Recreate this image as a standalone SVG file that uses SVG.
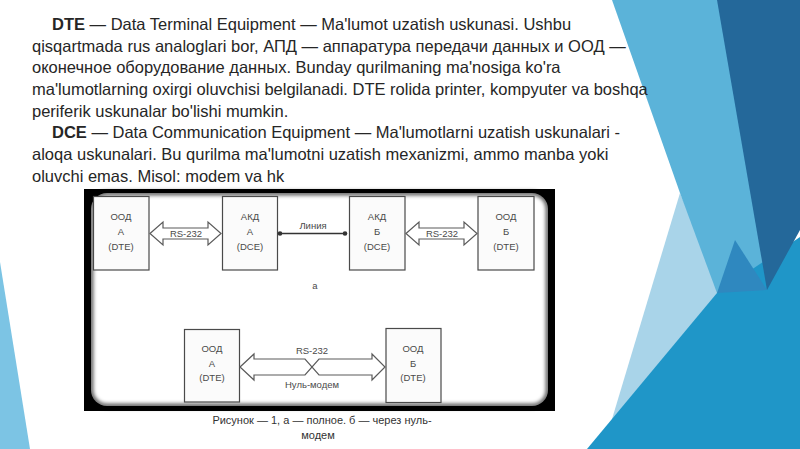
<svg xmlns="http://www.w3.org/2000/svg" width="800" height="449" viewBox="0 0 800 449">
<defs>
<style>
.body{font-family:"Liberation Sans",Arial,sans-serif;font-size:16.5px;fill:#262626}
.b{font-weight:bold}
.cap{font-family:"Liberation Sans",Arial,sans-serif;font-size:11px;fill:#333;text-anchor:middle}
.lbl{font-family:"Liberation Sans",Arial,sans-serif;font-size:9.5px;fill:#4a4a4a;text-anchor:middle}
.box{fill:#fbfbfb;stroke:#4a4a4a;stroke-width:1.2}
.conn{fill:none;stroke:#5a5a5a;stroke-width:1.2}
</style>
<filter id="soft" x="-5%" y="-5%" width="110%" height="110%"><feGaussianBlur stdDeviation="2"/></filter>
</defs>
<rect width="800" height="449" fill="#ffffff"/>
<!-- background facets -->
<polygon points="0,262 30,449 0,449" fill="#7cc4e4"/>
<polygon points="680,193 725,300 650,449 603,449" fill="#a9d4e9"/>
<polygon points="612,0 718,0 775,300 717,293 680,193" fill="#5bb3d9"/>
<polygon points="717,293 800,237 800,449 587,449" fill="#1f96c8"/>
<polygon points="735,240 767,290 717,293" fill="#2f88bf"/>
<polygon points="717,0 800,0 800,230 767,290" fill="#24689a"/>
<!-- paragraph text -->
<text class="body" x="52" y="30"><tspan class="b">DTE</tspan> — Data Terminal Equipment — Ma'lumot uzatish uskunasi. Ushbu</text>
<text class="body" x="32" y="51.7">qisqartmada rus analoglari bor, АПД — аппаратура передачи данных и ООД —</text>
<text class="body" x="32" y="73.3">оконечное оборудование данных. Bunday qurilmaning ma'nosiga ko'ra</text>
<text class="body" x="32" y="95">ma'lumotlarning oxirgi oluvchisi belgilanadi. DTE rolida printer, kompyuter va boshqa</text>
<text class="body" x="32" y="116.7">periferik uskunalar bo'lishi mumkin.</text>
<text class="body" x="52" y="138.3"><tspan class="b">DCE</tspan> — Data Communication Equipment — Ma'lumotlarni uzatish uskunalari -</text>
<text class="body" x="32" y="160">aloqa uskunalari. Bu qurilma ma'lumotni uzatish mexanizmi, ammo manba yoki</text>
<text class="body" x="32" y="181.7">oluvchi emas. Misol: modem va hk</text>
<!-- picture frame -->
<g id="frame">
<rect x="84" y="189" width="471" height="222" fill="#000"/>
<rect x="91" y="193" width="457" height="213" rx="16" fill="#fff"/>
<rect x="91" y="193" width="457" height="213" rx="16" fill="none" stroke="#000" stroke-width="3" filter="url(#soft)"/>
</g>
<g id="ood-a-top">
<rect class="box" x="93.5" y="196.5" width="55.5" height="73.5"/>
<text class="lbl" x="121" y="220">ООД</text>
<text class="lbl" x="121" y="235">А</text>
<text class="lbl" x="121" y="250">(DTE)</text>
</g>
<g id="akd-a">
<rect class="box" x="222.5" y="196.5" width="55" height="73.5"/>
<text class="lbl" x="250" y="220">АКД</text>
<text class="lbl" x="250" y="235">А</text>
<text class="lbl" x="250" y="250">(DCE)</text>
</g>
<g id="akd-b">
<rect class="box" x="349.5" y="196.5" width="55.5" height="73.5"/>
<text class="lbl" x="377" y="220">АКД</text>
<text class="lbl" x="377" y="235">Б</text>
<text class="lbl" x="377" y="250">(DCE)</text>
</g>
<g id="ood-b-top">
<rect class="box" x="478" y="196.5" width="56" height="73.5"/>
<text class="lbl" x="506" y="220">ООД</text>
<text class="lbl" x="506" y="235">Б</text>
<text class="lbl" x="506" y="250">(DTE)</text>
</g>
<text class="lbl" x="315" y="289">а</text>
<g id="ood-a-bottom">
<rect class="box" x="184.5" y="329.5" width="55" height="72.5"/>
<text class="lbl" x="212" y="352">ООД</text>
<text class="lbl" x="212" y="367">А</text>
<text class="lbl" x="212" y="381">(DTE)</text>
</g>
<g id="ood-b-bottom">
<rect class="box" x="386" y="328.5" width="55" height="74"/>
<text class="lbl" x="413" y="352">ООД</text>
<text class="lbl" x="413" y="367">Б</text>
<text class="lbl" x="413" y="381">(DTE)</text>
</g>
<g id="connectors">
<path class="conn" d="M150,233.5 L163,222 L163,228 L208,228 L208,222 L221,233.5 L208,245 L208,239 L163,239 L163,245 Z"/>
<text class="lbl" x="186" y="237">RS-232</text>
<line x1="280" y1="233.5" x2="345" y2="233.5" stroke="#333" stroke-width="1.3"/>
<circle cx="280" cy="233.5" r="2.3" fill="#333"/>
<circle cx="345" cy="233.5" r="2.3" fill="#333"/>
<text class="lbl" x="313" y="229">Линия</text>
<path class="conn" d="M406,233.5 L419,222 L419,228 L464,228 L464,222 L477,233.5 L464,245 L464,239 L419,239 L419,245 Z"/>
<text class="lbl" x="442" y="237">RS-232</text>
<path class="conn" d="M240,367 L254,354 L254,359 L305,359 L319,375 L372,375 L372,380 L385,367 L372,354 L372,359 L319,359 L305,375 L254,375 L254,380 Z"/>
<text class="lbl" x="312" y="354">RS-232</text>
<text class="lbl" x="312" y="388">Нуль-модем</text>
</g>
<text class="cap" x="322" y="424">Рисунок — 1, а — полное. б — через нуль-</text>
<text class="cap" x="318" y="439">модем</text>
</svg>
